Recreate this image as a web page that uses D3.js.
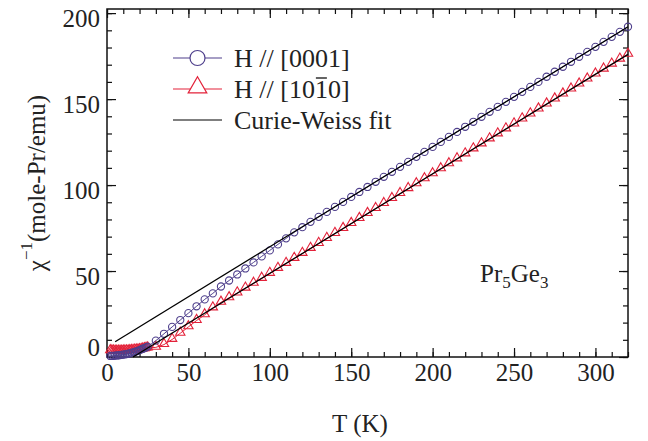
<!DOCTYPE html>
<html><head><meta charset="utf-8">
<script src="https://cdn.jsdelivr.net/npm/d3@7"></script>
<style>body{margin:0;background:#fff}
#c text, #c tspan{font-family:"Liberation Serif","Times New Roman",Tinos,Times !important}</style>
</head><body>
<svg id="c" width="648" height="441"></svg>
<script>
// ---- data ----
const temps = [2,3,4,5,6,7,8,9,10,11,12,13,14,15,16,17,18,19,20,21,22,23,24,
  25,30,35,40,45,50,55,60,65,70,75,80,85,90,95,100,105,110,115,120,125,130,135,140,145,150,
  155,160,165,170,175,180,185,190,195,200,205,210,215,220,225,230,235,240,245,250,255,260,
  265,270,275,280,285,290,295,300,305,310,315,320];
const chiInvC = [0.6,0.6,0.7,0.8,0.9,1.0,1.1,1.2,1.4,1.5,1.7,1.9,2.1,2.4,2.7,3.0,3.3,3.6,4.0,4.4,4.8,5.2,5.6,
  6.0,9.5,13.5,17.5,21.5,25.5,29.5,33.5,37.0,41.0,44.5,48.0,51.5,55.0,58.5,62.0,65.5,69.0,72.5,75.5,78.6,81.5,
  84.4,87.3,90.2,93.1,96.0,98.9,101.9,104.8,107.7,110.6,113.5,116.4,119.3,122.2,125.1,128.0,130.9,133.9,
  136.8,139.7,142.6,145.5,148.4,151.3,154.2,157.1,160.0,163.0,165.9,168.8,171.7,174.6,177.5,180.4,183.3,
  186.2,189.1,192.1];
const chiInvA = [3.6,3.5,3.4,3.3,3.3,3.3,3.3,3.3,3.4,3.4,3.5,3.5,3.6,3.7,3.8,3.9,4.0,4.1,4.2,4.4,4.6,4.8,5.0,
  5.2,5.6,7.2,10.2,13.8,17.5,21.2,24.5,28.5,31.8,34.4,37.2,40.0,42.8,45.7,48.6,51.5,54.4,57.3,60.2,63.1,66.0,
  68.9,71.8,74.7,77.6,80.5,83.4,86.3,89.2,92.1,95.0,97.9,100.7,103.6,106.5,109.4,112.3,115.2,118.1,121.0,
  123.9,126.8,129.7,132.6,135.5,138.4,141.3,144.2,147.1,150.0,152.9,155.8,158.7,161.6,164.5,167.4,170.3,
  173.2,176.0];
const fitCT = [5, 320], fitCV = [8.9, 192.1];
const fitAT = [16, 320], fitAV = [0, 176.0];
const xMajor = [0,50,100,150,200,250,300];
const yMajor = [0,50,100,150,200];
const xMinor = d3.range(0, 321, 10);
const yMinor = d3.range(0, 201, 10);
const legendLabels = ["H // [0001]", "H // [10", "Curie-Weiss fit"];

// ---- layout ----
const pL = 107, pR = 628, pT = 9, pB = 357;
const FONTCSS = 'font-family:"Liberation Serif","Times New Roman",Tinos,Times !important';
const colC = "#4e3f8c", colA = "#e3223a";
const svg = d3.select("#c");
const x = d3.scaleLinear().domain([0, 320]).range([pL, pR]);
const y = d3.scaleLinear().domain([0, 202.4]).range([pB, pT]);
function ff(sel, size){ return sel.attr("font-family","Liberation Serif").attr("style",FONTCSS).attr("font-size",size).attr("fill","#222"); }

// axes (ticks inward)
function styleAxis(g){ g.attr("font-family","Liberation Serif").attr("font-size",25);
  g.select(".domain").remove(); g.selectAll("line").attr("stroke","#111").attr("stroke-width",1.2);
  ff(g.selectAll("text"), 25); }
svg.append("g").attr("transform",`translate(0,${pB})`).call(d3.axisBottom(x).tickValues(xMinor).tickFormat("").tickSize(-5)).call(styleAxis);
svg.append("g").attr("transform",`translate(0,${pB})`).call(d3.axisBottom(x).tickValues(xMajor).tickFormat(d3.format("d")).tickSize(-9).tickPadding(6)).call(styleAxis);
svg.append("g").attr("transform",`translate(0,${pT})`).call(d3.axisTop(x).tickValues(xMinor).tickFormat("").tickSize(-5)).call(styleAxis);
svg.append("g").attr("transform",`translate(0,${pT})`).call(d3.axisTop(x).tickValues(xMajor).tickFormat("").tickSize(-9)).call(styleAxis);
svg.append("g").attr("transform",`translate(${pL},0)`).call(d3.axisLeft(y).tickValues(yMinor).tickFormat("").tickSize(-5)).call(styleAxis);
const gy = svg.append("g").attr("transform",`translate(${pL},0)`).call(d3.axisLeft(y).tickValues(yMajor).tickFormat(d3.format("d")).tickSize(-9).tickPadding(7)).call(styleAxis);
gy.selectAll("text").attr("dy", d => d === 0 ? "-0.05em" : "0.52em");
svg.append("g").attr("transform",`translate(${pR},0)`).call(d3.axisRight(y).tickValues(yMinor).tickFormat("").tickSize(-5)).call(styleAxis);
svg.append("g").attr("transform",`translate(${pR},0)`).call(d3.axisRight(y).tickValues(yMajor).tickFormat("").tickSize(-9)).call(styleAxis);
svg.append("rect").attr("x",pL).attr("y",pT).attr("width",pR-pL).attr("height",pB-pT)
  .attr("fill","none").attr("stroke","#111").attr("stroke-width",1.5);

// data
const line = d3.line().x(d=>x(d[0])).y(d=>y(d[1]));
const dC = temps.map((t,i)=>[t,chiInvC[i]]);
const dA = temps.map((t,i)=>[t,chiInvA[i]]);
const tri = d3.symbol().type(d3.symbolTriangle).size(38);
svg.append("path").datum(dA).attr("d",line).attr("fill","none").attr("stroke",colA).attr("stroke-width",1);
svg.append("g").selectAll("path").data(dA).join("path")
  .attr("transform",d=>`translate(${x(d[0])},${y(d[1])-0.8})`).attr("d",tri)
  .attr("fill","none").attr("stroke",colA).attr("stroke-width",1.1);
svg.append("path").datum(dC).attr("d",line).attr("fill","none").attr("stroke",colC).attr("stroke-width",1);
svg.append("g").selectAll("circle").data(dC).join("circle")
  .attr("cx",d=>x(d[0])).attr("cy",d=>y(d[1])).attr("r",3.6)
  .attr("fill","none").attr("stroke",colC).attr("stroke-width",1.1);
// Curie-Weiss fits
svg.append("path").datum(fitCT.map((t,i)=>[t,fitCV[i]])).attr("d",line).attr("stroke","#000").attr("stroke-width",1.3).attr("fill","none");
svg.append("path").datum(fitAT.map((t,i)=>[t,fitAV[i]])).attr("d",line).attr("stroke","#000").attr("stroke-width",1.3).attr("fill","none");

// legend
const lg = svg.append("g");
const rows = [58, 89, 120];
const lx0 = 173, lx1 = 222, tx = 234;
lg.append("line").attr("x1",lx0).attr("x2",lx1).attr("y1",rows[0]).attr("y2",rows[0]).attr("stroke",colC).attr("stroke-width",1.2);
lg.append("circle").attr("cx",(lx0+lx1)/2).attr("cy",rows[0]).attr("r",7.5).attr("fill","#fff").attr("stroke",colC).attr("stroke-width",1.2);
lg.append("line").attr("x1",lx0).attr("x2",lx1).attr("y1",rows[1]).attr("y2",rows[1]).attr("stroke",colA).attr("stroke-width",1.2);
lg.append("path").attr("transform",`translate(${(lx0+lx1)/2},${rows[1]-1.5})`).attr("d",d3.symbol().type(d3.symbolTriangle).size(150))
  .attr("fill","#fff").attr("stroke",colA).attr("stroke-width",1.2);
lg.append("line").attr("x1",lx0).attr("x2",lx1).attr("y1",rows[2]).attr("y2",rows[2]).attr("stroke","#000").attr("stroke-width",1.2);
ff(lg.append("text"), 26).attr("x",tx).attr("y",rows[0]+9).text(legendLabels[0]);
const t2 = ff(lg.append("text"), 26).attr("x",tx).attr("y",rows[1]+9);
t2.append("tspan").text(legendLabels[1]);
const barOne = t2.append("tspan").text("1");
t2.append("tspan").text("0]");
ff(lg.append("text"), 26).attr("x",tx).attr("y",rows[2]+9).text(legendLabels[2]);
// overline on the bar-one (measured after layout)
const n2 = t2.node();
const s = n2.getStartPositionOfChar(8), e = n2.getEndPositionOfChar(8);
lg.append("line").attr("x1",s.x+1).attr("x2",e.x-1).attr("y1",rows[1]-11).attr("y2",rows[1]-11).attr("stroke","#222").attr("stroke-width",1.4);

// compound label
const cl = ff(svg.append("text"), 25).attr("x",480).attr("y",282);
cl.append("tspan").text("Pr");
cl.append("tspan").attr("font-size",17).attr("dy",6).text("5");
cl.append("tspan").attr("dy",-6).text("Ge");
cl.append("tspan").attr("font-size",17).attr("dy",6).text("3");

// axis titles
ff(svg.append("text"), 25).attr("x",360).attr("y",432).attr("text-anchor","middle").text("T (K)");
const yt = ff(svg.append("text"), 25).attr("transform","translate(45,183) rotate(-90)").attr("text-anchor","middle");
yt.append("tspan").text("χ");
yt.append("tspan").attr("font-size",17).attr("dy",-13).text("−1");
yt.append("tspan").attr("dy",13).text("(mole-Pr/emu)");
</script>
</body></html>
